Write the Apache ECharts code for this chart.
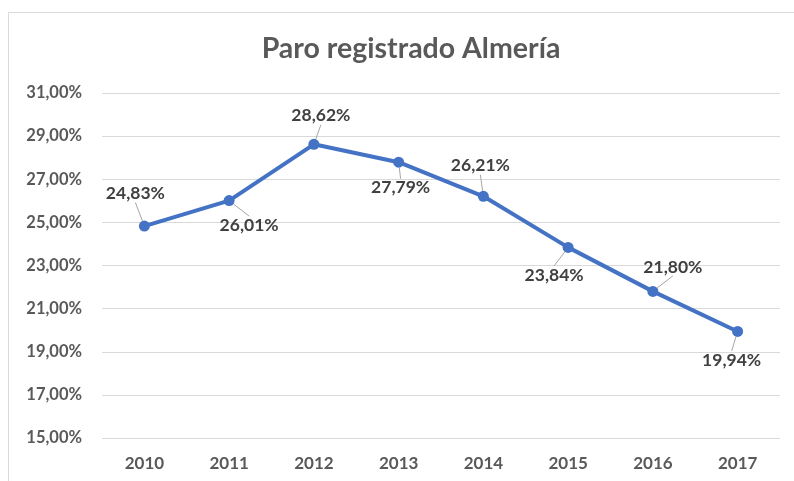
<!DOCTYPE html>
<html>
<head>
<meta charset="utf-8">
<script src="https://cdn.jsdelivr.net/npm/echarts@6/dist/echarts.min.js"></script>
<style>
  html, body { margin: 0; padding: 0; background: #fff; }
  #chart { width: 794px; height: 481px; }
</style>
</head>
<body>
<div id="chart"></div>
<script>
// years on the x axis
var years = ['2010', '2011', '2012', '2013', '2014', '2015', '2016', '2017'];
// registered unemployment rate, %
var paro = [24.83, 26.01, 28.62, 27.79, 26.21, 23.84, 21.80, 19.94];
// where each label sits relative to its point (like the excel one)
var labelShift = [[-9, -13], [20, 44], [7, -9], [2, 45], [-3, -11], [-14, 47], [20, -5], [-6, 48]];

var fontFam = 'Lato, "Noto Sans", sans-serif';

function pct(v) {
    return v.toFixed(2).replace('.', ',') + '%';
}

var myChart = echarts.init(document.getElementById('chart'));

var option = {
    backgroundColor: '#fff',
    animation: false,
    title: {
        text: 'Paro registrado Almería',
        left: 406,
        textAlign: 'center',
        top: 29,
        textStyle: {
            fontFamily: fontFam,
            fontSize: 28.5,
            fontWeight: 'bold',
            color: '#595959'
        }
    },
    graphic: [{
        type: 'rect',
        shape: { x: 8.5, y: 12.5, width: 800, height: 480 },
        style: { fill: 'none', stroke: '#d9d9d9', lineWidth: 1 },
        silent: true
    }],
    grid: {
        left: 102,
        right: 14,
        top: 93,
        bottom: 43
    },
    xAxis: {
        type: 'category',
        data: years,
        boundaryGap: true,
        axisLine: { show: false },
        axisTick: { show: false },
        axisLabel: {
            margin: 17,
            fontFamily: fontFam,
            fontSize: 17,
            fontWeight: 'bold',
            color: '#595959'
        }
    },
    yAxis: {
        type: 'value',
        min: 15,
        max: 31,
        interval: 2,
        startValue: 15,
        axisLine: { show: false },
        axisTick: { show: false },
        splitLine: { lineStyle: { color: '#d9d9d9', width: 1 } },
        axisLabel: {
            margin: 20,
            fontFamily: fontFam,
            fontSize: 16.5,
            fontWeight: 'bold',
            color: '#595959',
            formatter: function (v) { return pct(v); }
        }
    },
    series: [{
        name: 'Paro',
        type: 'line',
        data: paro,
        symbol: 'circle',
        symbolSize: 11,
        lineStyle: { color: '#4472C4', width: 4 },
        itemStyle: { color: '#4472C4' },
        label: {
            show: true,
            position: 'top',
            fontFamily: fontFam,
            fontSize: 17.5,
            fontWeight: 'bold',
            color: '#404040',
            formatter: function (p) { return pct(p.value); }
        },
        labelLine: {
            show: true,
            lineStyle: { color: '#a6a6a6', width: 1 }
        },
        labelLayout: function (p) {
            var s = labelShift[p.dataIndex];
            return { dx: s[0], dy: s[1] };
        }
    }]
};
myChart.setOption(option);
</script>
</body>
</html>
